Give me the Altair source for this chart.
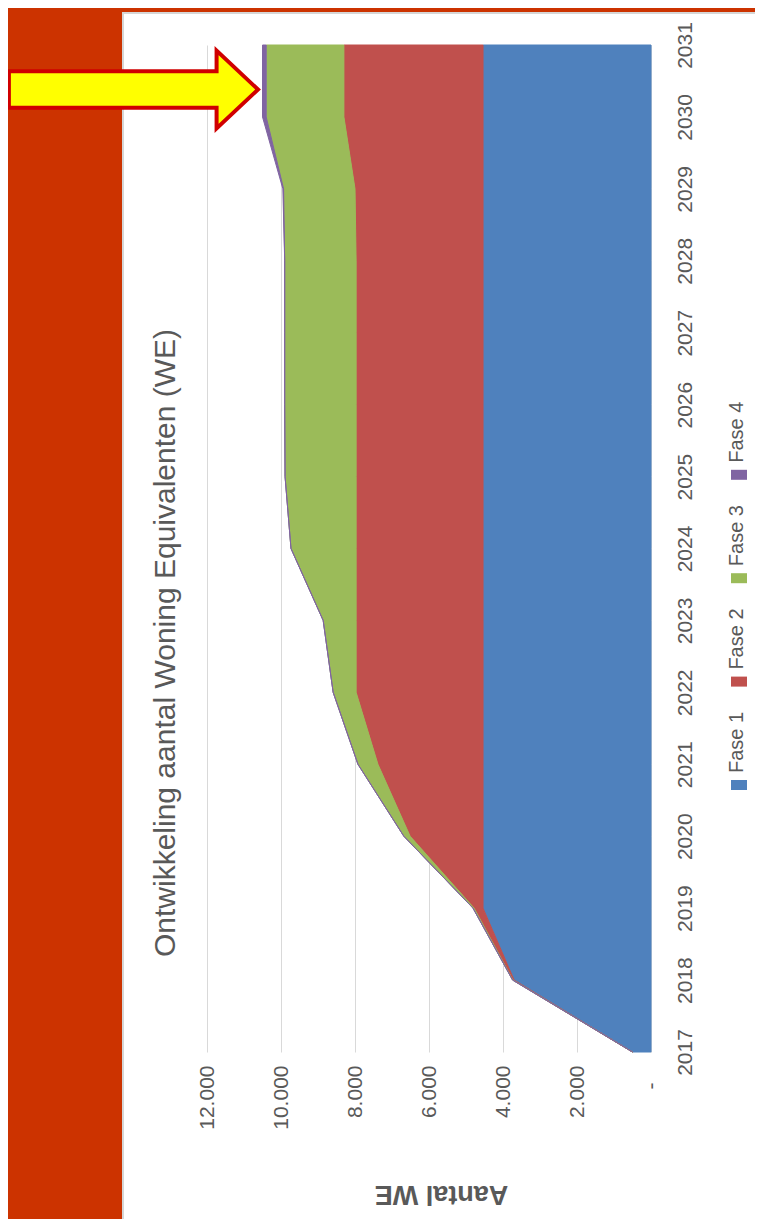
import altair as alt
import pandas as pd

# ---- data ----
years = list(range(2017, 2032))
fases = ["Fase 1", "Fase 2", "Fase 3", "Fase 4"]
fase1 = [500, 3700, 4540, 4540, 4540, 4540, 4540, 4540, 4540, 4540, 4540, 4540, 4540, 4540, 4540]
fase2 = [0, 30, 240, 1970, 2840, 3430, 3430, 3430, 3430, 3430, 3430, 3430, 3460, 3760, 3760]
fase3 = [0, 10, 30, 170, 540, 620, 890, 1760, 1920, 1930, 1930, 1930, 1930, 2100, 2100]
fase4 = [0, 0, 0, 0, 0, 0, 0, 0, 0, 0, 0, 0, 20, 100, 100]
value_ticks = [0, 2000, 4000, 6000, 8000, 10000, 12000]
title_text = "Ontwikkeling aantal Woning Equivalenten (WE)"
axis_title = "Aantal WE"

colors = ["#4F81BD", "#C0504D", "#9BBB59", "#8064A2"]
NARROW = "Liberation Sans Narrow, Arial Narrow, Liberation Sans, sans-serif"
GREY = "#595959"

rows = []
for name, series in zip(fases, [fase1, fase2, fase3, fase4]):
    for yr, v in zip(years, series):
        rows.append({"year": yr, "fase": name, "value": v})
df = pd.DataFrame(rows)

W, H = 444, 1007  # plot area
one = alt.Data(values=[{"a": 1}])

xaxis = alt.Axis(
    values=value_ticks,
    labelExpr="datum.value == 0 ? '-' : replace(format(datum.value, ',.0f'), ',', '.')",
    labelAngle=270, labelAlign="right", labelBaseline="middle",
    labelPadding={"condition": {"test": "datum.value == 0", "value": 30}, "value": 13},
    ticks=False, tickSize=0, domain=False,
    grid=True, gridColor="#D9D9D9", gridWidth=1,
    labelFont=NARROW, labelFontSize=21, labelColor=GREY,
    labelOverlap=False, labelFlush=False,
    title=axis_title, titleAngle=180, titleX=234, titleY=141,
    titleAlign="center", titleBaseline="middle",
    titleFont="Liberation Sans", titleFontSize=27, titleFontWeight="bold",
    titleColor=GREY,
)
yaxis = alt.Axis(
    orient="right", values=years, format="d",
    labelAngle=270, labelAlign="center", labelBaseline="top",
    labelPadding=23, ticks=False, tickSize=0, grid=False,
    domain=True, domainColor="#D9D9D9",
    labelFont=NARROW, labelFontSize=21, labelColor=GREY,
    labelOverlap=False, labelFlush=False, title="",
)

areas = alt.Chart(df).mark_area(orient="horizontal", strokeWidth=1, opacity=1).encode(
    x=alt.X("value:Q", stack="zero",
            scale=alt.Scale(domain=[0, 12000], reverse=True, nice=False), axis=xaxis),
    y=alt.Y("year:Q", scale=alt.Scale(domain=[2017, 2031], nice=False, zero=False), axis=yaxis),
    color=alt.Color("fase:N", scale=alt.Scale(domain=fases, range=colors), legend=None),
    stroke=alt.Stroke("fase:N", scale=alt.Scale(domain=fases, range=colors), legend=None),
)

# frame: red slide border + grey edge of the white panel
red = "#CC3300"
left_strip = alt.Chart(one).mark_rect(color=red).encode(
    x=alt.value(-199), x2=alt.value(-85), y=alt.value(-37), y2=alt.value(1174))
top_strip = alt.Chart(one).mark_rect(color=red).encode(
    x=alt.value(-85), x2=alt.value(548), y=alt.value(-37), y2=alt.value(-33))
edge_v = alt.Chart(one).mark_rule(color="#D6D6D6", strokeWidth=2).encode(
    x=alt.value(-84), y=alt.value(-33), y2=alt.value(1174))
edge_h = alt.Chart(one).mark_rule(color="#D6D6D6", strokeWidth=2).encode(
    x=alt.value(-85), x2=alt.value(548), y=alt.value(-32))

title = alt.Chart(one).mark_text(
    text=title_text, angle=270, align="center", baseline="middle",
    font=NARROW, fontSize=30, color=GREY,
).encode(x=alt.value(-41), y=alt.value(598))

legend_layers = []
for i, (name, col) in enumerate(zip(fases, colors)):
    sy = 740 - 103.4 * i
    legend_layers.append(
        alt.Chart(one).mark_point(
            shape="M-1,-0.625H1V0.625H-1Z", size=256, filled=True, opacity=1, color=col
        ).encode(x=alt.value(532), y=alt.value(sy))
    )
    legend_layers.append(
        alt.Chart(one).mark_text(
            text=name, angle=270, align="left", baseline="middle",
            font=NARROW, fontSize=20, color=GREY,
        ).encode(x=alt.value(530), y=alt.value(sy - 12))
    )

arrow = alt.Chart(one).mark_point(
    shape="M1,0L0.67,-0.31V-0.145H-0.985V0.145H0.67V0.31Z",
    size=63001, filled=True, opacity=1, fill="#FFFF00",
    stroke="#D00000", strokeWidth=4, strokeOpacity=1, fillOpacity=1,
).encode(x=alt.value(-74.5), y=alt.value(44.5))

chart = alt.layer(
    left_strip, top_strip, edge_v, edge_h, areas, title, *legend_layers, arrow
).properties(
    width=W, height=H,
    padding={"left": 199, "top": 37, "right": 104, "bottom": 167},
    autosize=alt.AutoSizeParams(type="none"),
    background="white",
).configure_view(stroke="transparent")

chart.save("out.html", embed_options={"renderer": "svg", "actions": False})
